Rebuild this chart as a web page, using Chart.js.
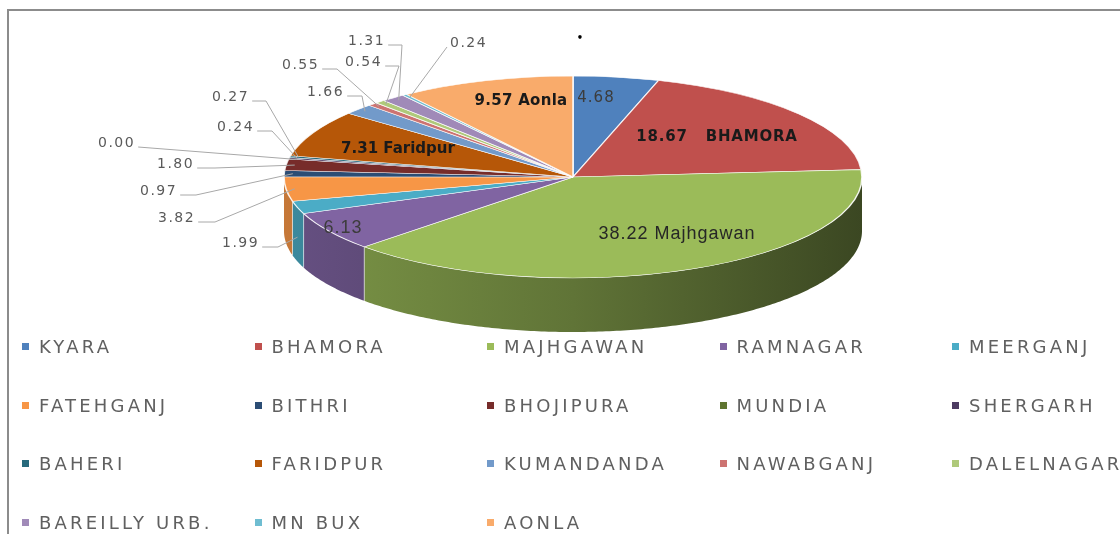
<!DOCTYPE html>
<html><head><meta charset="utf-8">
<script src="https://cdn.jsdelivr.net/npm/chart.js@4"></script>
<style>
html,body{margin:0;padding:0;background:#fff;width:1120px;height:534px;overflow:hidden;}
#wrap{position:relative;width:1120px;height:534px;}
#frame{position:absolute;left:7px;top:9px;right:-5px;bottom:-5px;border-top:2px solid #8c8c8c;border-left:2px solid #8c8c8c;}
canvas{position:absolute;left:0;top:0;}
.lg{position:absolute;font-family:"DejaVu Sans";font-size:18px;letter-spacing:3.2px;color:#606060;white-space:nowrap;line-height:20px;}
.lg i{position:absolute;width:7px;height:7px;left:-17px;top:6px;}
</style></head>
<body>
<div id="wrap">
<canvas id="c" width="1120" height="534"></canvas>
<div id="frame"></div>
<div id="legend"></div>
</div>
<script>
const categories = ['KYARA','BHAMORA','MAJHGAWAN','RAMNAGAR','MEERGANJ','FATEHGANJ','BITHRI','BHOJIPURA','MUNDIA','SHERGARH','BAHERI','FARIDPUR','KUMANDANDA','NAWABGANJ','DALELNAGAR','BAREILLY URB.','MN BUX','AONLA'];
const values = [4.68, 18.67, 38.22, 6.13, 1.99, 3.82, 0.97, 1.80, 0.00, 0.24, 0.27, 7.31, 1.66, 0.55, 0.54, 1.31, 0.24, 9.57];
const colors = ['#4F81BD','#C0504D','#9BBB59','#8064A2','#4BACC6','#F79646','#2C4D75','#772C2A','#5F7530','#4D3B62','#276A7C','#B65708','#729ACA','#CD7371','#AFC97A','#A08AB8','#6FBDD1','#F9AB6B'];
const sliceNames = {1:'   BHAMORA', 2:' Majhgawan', 11:' Faridpur', 17:' Aonla'};

// geometry of the flattened 3-D pie (screen pixels)
const geo = {cx:573, cy:177, rx:289, ry:101, depth:54};

const labelLayout = {
  inside: [
    {i:0,  x:596, y:98,  font:'15px "DejaVu Sans"', ls:'1px', color:'#3c3c3c'},
    {i:17, x:521, y:101, font:'bold 15px "DejaVu Sans"', ls:'0.3px', color:'#1a1a1a'},
    {i:1,  x:717, y:137, font:'bold 15px "DejaVu Sans"', ls:'0.8px', color:'#1a1a1a'},
    {i:2,  x:677, y:234, font:'18px "Liberation Sans"', ls:'1px', color:'#262626'},
    {i:3,  x:343, y:228, font:'18px "Liberation Sans"', ls:'1px', color:'#3c3c3c'},
    {i:11, x:398, y:149, font:'bold 15px "DejaVu Sans"', ls:'0px', color:'#1a1a1a'}
  ],
  outside: [
    {i:15, x:348, y:41,  elbow:402},
    {i:16, x:450, y:43,  elbow:null},
    {i:13, x:282, y:65,  elbow:337},
    {i:14, x:345, y:62,  elbow:399},
    {i:12, x:307, y:92,  elbow:362},
    {i:10, x:212, y:97,  elbow:266},
    {i:9,  x:217, y:127, elbow:272},
    {i:8,  x:98,  y:143, elbow:null},
    {i:7,  x:157, y:164, elbow:215},
    {i:6,  x:140, y:191, elbow:196},
    {i:5,  x:158, y:218, elbow:215},
    {i:4,  x:222, y:243, elbow:278, drop:0.55}
  ]
};

function shade(hex, f){
  const n = parseInt(hex.slice(1),16);
  const r = Math.round(((n>>16)&255)*f), g = Math.round(((n>>8)&255)*f), b = Math.round((n&255)*f);
  return `rgb(${r},${g},${b})`;
}
function ell(t, k){ k = k||1; return [geo.cx + geo.rx*k*Math.cos(t), geo.cy + geo.ry*k*Math.sin(t)]; }

const pie3d = {
  id:'pie3d',
  beforeDatasetsDraw(chart){
    const ctx = chart.ctx;
    const meta = chart.getDatasetMeta(0);
    const a0 = meta.data[0];
    const R = a0.outerRadius, px = a0.x, py = a0.y;
    ctx.save();
    meta.data.forEach((arc, i) => {
      const a = Math.max(arc.startAngle, 0), b = Math.min(arc.endAngle, Math.PI);
      if (b <= a) return;
      const grad = ctx.createLinearGradient(geo.cx-geo.rx, 0, geo.cx+geo.rx, 0);
      grad.addColorStop(0, shade(colors[i], 0.8));
      grad.addColorStop(0.5, shade(colors[i], 0.62));
      grad.addColorStop(1, shade(colors[i], 0.38));
      ctx.beginPath();
      const steps = Math.max(4, Math.ceil((b-a)*80));
      for (let s=0; s<=steps; s++){ const p = ell(a+(b-a)*s/steps); s? ctx.lineTo(p[0],p[1]) : ctx.moveTo(p[0],p[1]); }
      for (let s=steps; s>=0; s--){ const p = ell(a+(b-a)*s/steps); ctx.lineTo(p[0], p[1]+geo.depth); }
      ctx.closePath();
      ctx.fillStyle = grad; ctx.fill();
      if (a > 0) {
        const p = ell(a);
        ctx.beginPath(); ctx.moveTo(p[0], p[1]); ctx.lineTo(p[0], p[1]+geo.depth);
        ctx.strokeStyle = 'rgba(255,255,255,0.55)'; ctx.lineWidth = 1; ctx.stroke();
      }
    });
    ctx.restore();
    ctx.save();
    const sx = geo.rx / R, sy = geo.ry / R;
    ctx.transform(sx, 0, 0, sy, geo.cx - px*sx, geo.cy - py*sy);
  },
  afterDatasetsDraw(chart){
    const ctx = chart.ctx;
    ctx.restore();
    const meta = chart.getDatasetMeta(0);
    ctx.save();
    ctx.textBaseline = 'middle';
    labelLayout.inside.forEach(L => {
      ctx.font = L.font; ctx.letterSpacing = L.ls; ctx.fillStyle = L.color; ctx.textAlign = 'center';
      ctx.fillText(values[L.i].toFixed(2) + (sliceNames[L.i]||''), L.x, L.y);
    });
    ctx.font = '14px "DejaVu Sans"'; ctx.letterSpacing = '1.5px'; ctx.textAlign = 'left';
    labelLayout.outside.forEach(L => {
      const arc = meta.data[L.i];
      const txt = values[L.i].toFixed(2);
      ctx.fillStyle = '#5a5a5a';
      ctx.fillText(txt, L.x, L.y);
      const w = ctx.measureText(txt).width;
      const mid = (arc.startAngle + arc.endAngle)/2;
      const p = ell(mid, L.drop ? 1 : 0.97);
      if (L.drop) p[1] += geo.depth*L.drop;
      ctx.beginPath();
      ctx.strokeStyle = '#a8a8a8'; ctx.lineWidth = 1;
      if (L.elbow === null && L.i === 16) { ctx.moveTo(L.x-3, L.y+4); }
      else { ctx.moveTo(L.x+w+3, L.y+4); if (L.elbow) ctx.lineTo(L.elbow, L.y+4); }
      ctx.lineTo(p[0], p[1]);
      ctx.stroke();
    });
    ctx.fillStyle = '#000'; ctx.font = 'bold 10px "DejaVu Sans"'; ctx.letterSpacing = '0px'; ctx.textAlign='center';
    ctx.fillText('\u2022', 580, 38);
    ctx.restore();
  }
};

new Chart(document.getElementById('c'), {
  type: 'pie',
  data: { labels: categories, datasets: [{ data: values, backgroundColor: colors, borderColor: 'rgba(255,255,255,0.85)', borderWidth: 1.5 }] },
  options: {
    responsive: false, animation: false, events: [],
    layout: { padding: 0 },
    plugins: { legend: { display: false }, tooltip: { enabled: false } }
  },
  plugins: [pie3d]
});

const lg = document.getElementById('legend');
categories.forEach((name, i) => {
  const col = i % 5, row = Math.floor(i / 5);
  const d = document.createElement('div');
  d.className = 'lg';
  d.style.left = (39 + col*232.5) + 'px';
  d.style.top = (337 + row*58.7) + 'px';
  const m = document.createElement('i');
  m.style.background = colors[i];
  d.appendChild(m);
  d.appendChild(document.createTextNode(name));
  lg.appendChild(d);
});
</script>
</body></html>
